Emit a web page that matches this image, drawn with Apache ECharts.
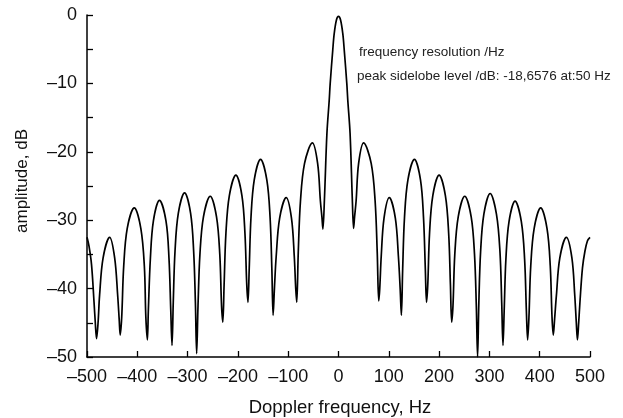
<!DOCTYPE html>
<html>
<head>
<meta charset="utf-8">
<script src="https://cdn.jsdelivr.net/npm/echarts@6/dist/echarts.min.js"></script>
<style>html,body{margin:0;padding:0;background:#fff}#c{width:623px;height:418px}</style>
</head>
<body>
<div id="c"></div>
<script>
const freqHz = [
 -500,-496,-491,-486,-483.5,-481,
 -478,-475,-468,-455,-445,-439,-436,-434,
 -431,-427,-420,-406,-393,-386,-383,-380,
 -378,-374,-368,-356,-343,-337,-333.5,-331,
 -328.5,-325,-318.5,-306,-294,-288,-284.5,-282,
 -279.3,-275.5,-268.5,-255,-242.5,-236,-232.5,-230,
 -227.4,-223.8,-217,-204,-192,-186,-182.4,-180,
 -177.5,-174,-167.5,-155,-142.5,-136,-132.5,-130,
 -127.4,-123.8,-117,-104,-93.5,-88,-85,-83,
 -80,-75.6,-67.5,-52,-41.5,-36,-33,-31,
 -28,-23,-18.5,-16.5,-11.5,-8.5,-4,0,4,8.5,11.5,16.5,18.5,23,27.5,30,
 32,35,40,50,65,72.8,77,80,
 82,85,90.5,101,113,119,122.6,125,
 127.6,131.2,138,151,163,169,172.6,175,
 177.5,181,187.5,200,212.5,219,222.5,225,
 227.6,231.2,238,251,263.8,270.4,274,276.5,
 279,282.5,289,301.5,314,321,324.5,327,
 329.4,332.8,339,351,363.5,370,373.5,376,
 378.6,382.2,389,402,414.5,421,424.5,427,
 429.6,433.2,440,453,464,469.7,472.8,475,
 477.5,480,485,490,495,500
];
const amplitudeDb = [
 -32.5,-33.8,-36.5,-42,-45,-47.3,
 -45,-41,-35.5,-32.5,-35.5,-41,-44.5,-46.8,
 -44.2,-36.7,-31.2,-28.2,-31.2,-36.7,-44.2,-47.5,
 -43.1,-35.6,-30.1,-27.1,-30.1,-35.6,-43.1,-48.3,
 -42,-34.5,-29,-26,-29,-34.5,-42,-49.5,
 -42.5,-35,-29.5,-26.5,-29.5,-35,-42.5,-44.9,
 -39.4,-31.9,-26.4,-23.4,-26.4,-31.9,-39.4,-42,
 -37.1,-29.6,-24.1,-21.1,-24.1,-29.6,-37.1,-43.9,
 -40,-35.2,-29.7,-26.7,-29.7,-35.2,-40,-42,
 -34.7,-27.2,-21.7,-18.7,-21.7,-27.2,-29.5,-31.3,
 -27,-17.3,-12.5,-10,-5.2,-2.7,-0.7,-0.2,-0.7,-2.7,-5.2,-10,-12.5,-17.3,-27,-31.2,
 -29.5,-27.2,-21.7,-18.7,-21.7,-27.2,-34.7,-41.8,
 -40,-35.2,-29.7,-26.7,-29.7,-35.2,-40,-43.9,
 -37.1,-29.6,-24.1,-21.1,-24.1,-29.6,-37.1,-42,
 -39.4,-31.9,-26.4,-23.4,-26.4,-31.9,-39.4,-44.9,
 -42.5,-35,-29.5,-26.5,-29.5,-35,-42.5,-50,
 -42.1,-34.6,-29.1,-26.1,-29.1,-34.6,-42.1,-48.3,
 -43.2,-35.7,-30.2,-27.2,-30.2,-35.7,-43.2,-47.5,
 -44.2,-36.7,-31.2,-28.2,-31.2,-36.7,-44.2,-46.8,
 -44.5,-41,-35.5,-32.5,-35.5,-41,-45,-47.5,
 -45,-42,-37,-34.5,-33,-32.5
];
const xTicks = [-500,-400,-300,-200,-100,0,100,200,300,400,500];
const yTicks = [-50,-40,-30,-20,-10,0];
const xTitle = 'Doppler frequency, Hz';
const yTitle = 'amplitude, dB';
const noteLines = ['frequency resolution /Hz', 'peak sidelobe level /dB: -18,6576 at:50 Hz'];

const font = '"Liberation Sans", Arial, Helvetica, sans-serif';
const fmt = v => (v < 0 ? '\u2013' + Math.abs(v) : String(v));
const chart = echarts.init(document.getElementById('c'), null, {renderer: 'canvas'});
chart.setOption({
  animation: false,
  backgroundColor: '#fff',
  grid: {left: 87, right: 33, top: 15, bottom: 61, containLabel: false},
  xAxis: {
    type: 'value', min: xTicks[0], max: xTicks[xTicks.length-1], interval: 100,
    axisLine: {onZero: false, lineStyle: {color: '#000', width: 1.5}},
    axisTick: {inside: true, length: 6, lineStyle: {color: '#000', width: 1.3}},
    axisLabel: {fontFamily: font, fontSize: 18, color: '#111', margin: 11, formatter: fmt},
    splitLine: {show: false}
  },
  yAxis: {
    type: 'value', min: yTicks[0], max: yTicks[yTicks.length-1], interval: 10,
    axisLine: {onZero: false, lineStyle: {color: '#000', width: 1.5}},
    axisTick: {inside: true, length: 6, lineStyle: {color: '#000', width: 1.3}},
    minorTick: {show: true, splitNumber: 2, length: 6, lineStyle: {color: '#000', width: 1.3}},
    axisLabel: {fontFamily: font, fontSize: 18, color: '#111', margin: 10, formatter: fmt},
    splitLine: {show: false}
  },
  series: [{
    type: 'line',
    data: freqHz.map((f, i) => [f, amplitudeDb[i]]),
    showSymbol: false,
    smooth: 0.35,
    lineStyle: {color: '#000', width: 1.7},
    clip: true
  }],
  graphic: [
    {type: 'text', x: 340, y: 408, style: {text: xTitle, font: '18.5px ' + font, fill: '#111', textAlign: 'center', textVerticalAlign: 'middle'}},
    {type: 'text', x: 22, y: 181, rotation: Math.PI / 2, style: {text: yTitle, font: '17px ' + font, fill: '#111', textAlign: 'center', textVerticalAlign: 'middle'}},
    {type: 'text', x: 359, y: 52, style: {text: noteLines[0], font: '13.5px ' + font, fill: '#222', textVerticalAlign: 'middle'}},
    {type: 'text', x: 357, y: 76, style: {text: noteLines[1], font: '13.5px ' + font, fill: '#222', textVerticalAlign: 'middle'}}
  ]
});
</script>
</body>
</html>
